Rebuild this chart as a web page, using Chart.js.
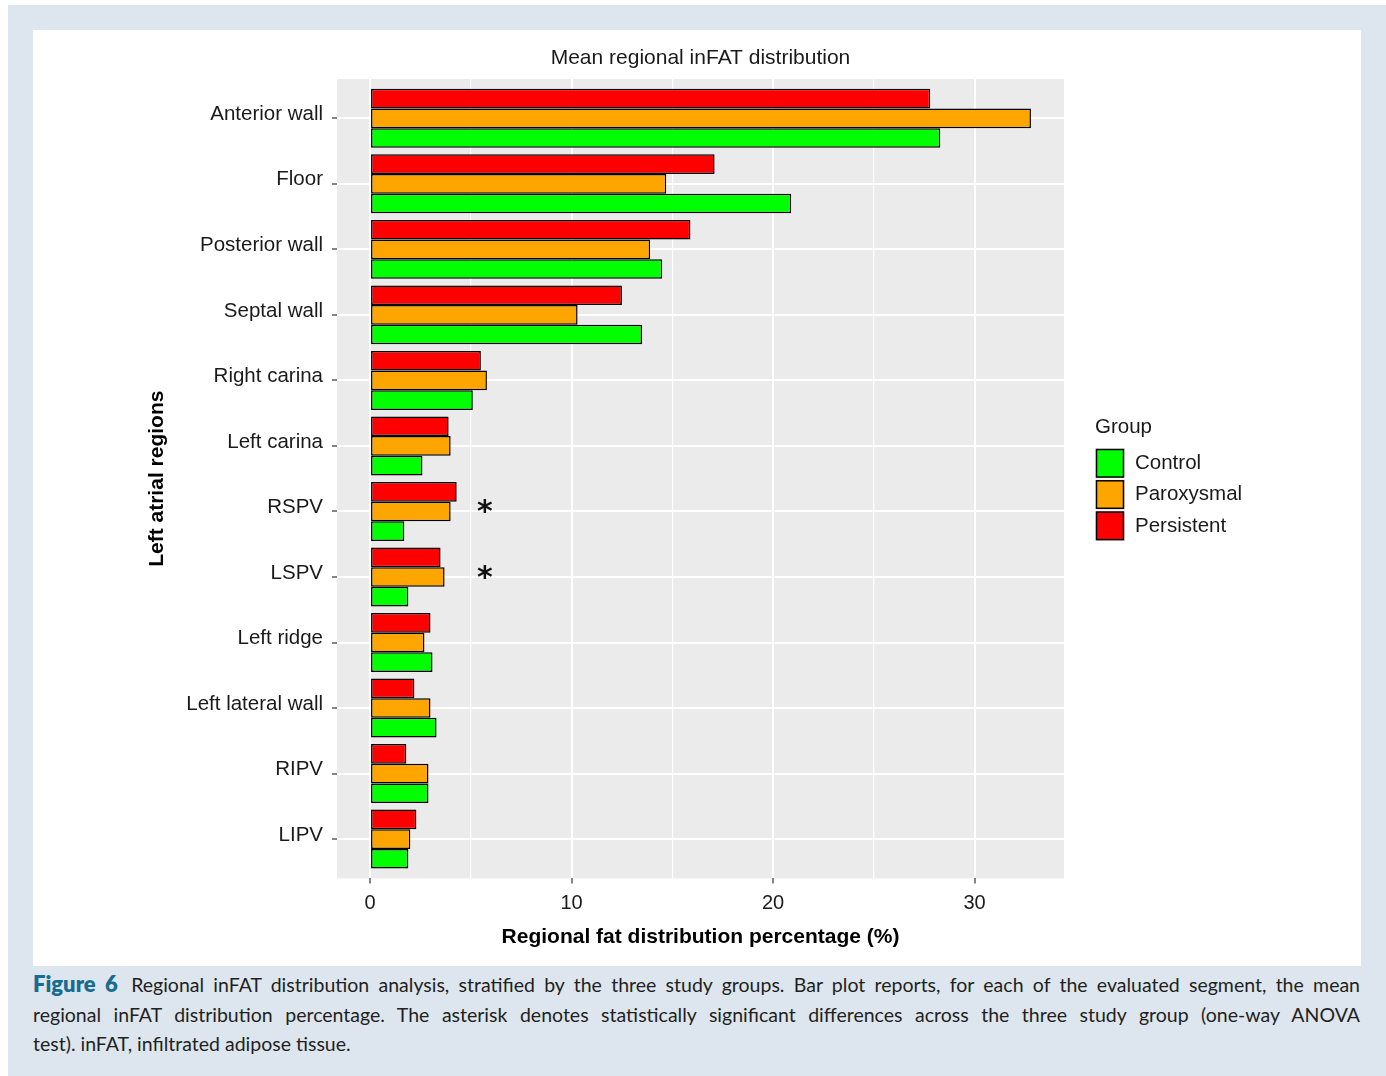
<!DOCTYPE html>
<html>
<head>
<meta charset="utf-8">
<script src="https://cdn.jsdelivr.net/npm/chart.js@4.4.1/dist/chart.umd.min.js"></script>
<style>
  html, body { margin: 0; padding: 0; background: #ffffff; }
  body { width: 1386px; height: 1076px; position: relative; overflow: hidden; }
  #frame { position: absolute; left: 8px; top: 5px; width: 1378px; height: 1071px; background: #dde6ef; }
  #panel { position: absolute; left: 33px; top: 30px; width: 1328px; height: 936px; background: #ffffff; }
  #panel canvas { display: block; }
  #caption {
    position: absolute; left: 33px; top: 969px; width: 1327px;
    font-family: "Lato", "Open Sans", sans-serif; font-size: 19.5px; line-height: 29.5px; color: #231f20;
  }
  #caption .ln { display: block; white-space: nowrap; text-align: justify; text-align-last: justify; }
  #caption .ln.last { text-align-last: left; }
  #caption b { color: #176d8f; font-size: 22px; font-weight: 800; margin-right: 4px; }
</style>
</head>
<body>
<div id="frame"></div>
<div id="panel"><canvas id="chart" width="1328" height="936"></canvas></div>
<div id="caption">
  <span class="ln"><b>Figure 6</b> Regional inFAT distribution analysis, stratified by the three study groups. Bar plot reports, for each of the evaluated segment, the mean</span>
  <span class="ln">regional inFAT distribution percentage. The asterisk denotes statistically significant differences across the three study group (one-way ANOVA</span>
  <span class="ln last">test). inFAT, infiltrated adipose tissue.</span>
</div>
<script>
// Left atrial regions, top to bottom
const REGIONS = ["Anterior wall", "Floor", "Posterior wall", "Septal wall", "Right carina", "Left carina",
                 "RSPV", "LSPV", "Left ridge", "Left lateral wall", "RIPV", "LIPV"];

// Mean regional inFAT distribution percentage per group
const PERSISTENT = [27.8, 17.1, 15.9, 12.5, 5.5, 3.9, 4.3, 3.5, 3.0, 2.2, 1.8, 2.3];
const PAROXYSMAL = [32.8, 14.7, 13.9, 10.3, 5.8, 4.0, 4.0, 3.7, 2.7, 3.0, 2.9, 2.0];
const CONTROL    = [28.3, 20.9, 14.5, 13.5, 5.1, 2.6, 1.7, 1.9, 3.1, 3.3, 2.9, 1.9];

// Regions with a significant one-way ANOVA result
const SIGNIFICANT = ["RSPV", "LSPV"];
const STAR_VALUE = 5.7;

const X_TICKS = [0, 5, 10, 15, 20, 25, 30];
const X_LABELED = [0, 10, 20, 30];

const GROUPS = [
  { name: "Control",    color: "#00ff00" },
  { name: "Paroxysmal", color: "#ffa500" },
  { name: "Persistent", color: "#ff0000" }
];

const N = REGIONS.length;
const maxVal = Math.max(...PERSISTENT, ...PAROXYSMAL, ...CONTROL);
const pos = i => N - i; // first region sits at the top of the axis

function series(values) {
  return values.map((v, i) => ({ x: v, y: pos(i) }));
}

const FONT = "'Liberation Sans', Arial, sans-serif";

// panel background in ggplot style
const panelBg = {
  id: "panelBg",
  beforeDraw(chart) {
    const { ctx, chartArea: a } = chart;
    ctx.save();
    ctx.fillStyle = "#ebebeb";
    ctx.fillRect(a.left, a.top, a.right - a.left, a.bottom - a.top);
    ctx.restore();
  }
};

// significance markers beside the flagged regions
const stars = {
  id: "stars",
  afterDatasetsDraw(chart) {
    const { ctx, scales } = chart;
    ctx.save();
    ctx.fillStyle = "#111";
    ctx.font = "bold 30px 'DejaVu Sans', sans-serif";
    ctx.textAlign = "center";
    ctx.textBaseline = "middle";
    SIGNIFICANT.forEach(r => {
      const i = REGIONS.indexOf(r);
      ctx.fillText("*", scales.x.getPixelForValue(STAR_VALUE), scales.y.getPixelForValue(pos(i)) + 2);
    });
    ctx.restore();
  }
};

// "Group" legend to the right of the panel
const groupLegend = {
  id: "groupLegend",
  afterDraw(chart) {
    const { ctx, chartArea: a } = chart;
    const x0 = a.right + 31;
    const top = a.top + 348;
    ctx.save();
    ctx.fillStyle = "#1a1a1a";
    ctx.font = "20.5px " + FONT;
    ctx.textAlign = "left";
    ctx.textBaseline = "middle";
    ctx.fillText("Group", x0, top);
    GROUPS.forEach((g, k) => {
      const y = top + 21 + k * 31.3;
      ctx.fillStyle = "#f2f2f2";
      ctx.fillRect(x0, y, 30, 30.5);
      ctx.fillStyle = g.color;
      ctx.fillRect(x0 + 1, y + 1, 28, 28.5);
      ctx.strokeStyle = "#000";
      ctx.lineWidth = 1.5;
      ctx.strokeRect(x0 + 1.5, y + 1.5, 27, 27.5);
      ctx.fillStyle = "#1a1a1a";
      ctx.fillText(g.name, x0 + 40, y + 15.5);
    });
    ctx.restore();
  }
};

const barStyle = { borderColor: "#000", borderWidth: 1.5, borderSkipped: false,
                   categoryPercentage: 0.9, barPercentage: 1.0 };

new Chart(document.getElementById("chart"), {
  type: "bar",
  data: {
    datasets: [
      Object.assign({ label: "Persistent", data: series(PERSISTENT), backgroundColor: "#ff0000" }, barStyle),
      Object.assign({ label: "Paroxysmal", data: series(PAROXYSMAL), backgroundColor: "#ffa500" }, barStyle),
      Object.assign({ label: "Control",    data: series(CONTROL),    backgroundColor: "#00ff00" }, barStyle)
    ]
  },
  plugins: [panelBg, stars, groupLegend],
  options: {
    indexAxis: "y",
    responsive: false,
    animation: false,
    layout: { padding: { left: 108, right: 297, top: 0, bottom: 12 } },
    plugins: {
      legend: { display: false },
      tooltip: { enabled: false },
      title: {
        display: true,
        text: "Mean regional inFAT distribution",
        fullSize: false,
        color: "#1a1a1a",
        font: { family: FONT, size: 21, weight: "normal" },
        padding: { top: 16, bottom: 7.8 }
      }
    },
    scales: {
      x: {
        type: "linear",
        min: -maxVal * 0.05,
        max: maxVal * 1.05,
        afterBuildTicks: s => { s.ticks = X_TICKS.map(v => ({ value: v })); },
        afterFit: s => { s.height = 75.6; },
        border: { display: false },
        grid: {
          color: "#ffffff",
          lineWidth: c => (X_LABELED.includes(c.tick.value) ? 2 : 1.2),
          tickColor: c => (X_LABELED.includes(c.tick.value) ? "#333333" : "rgba(0,0,0,0)"),
          tickLength: 5,
          tickWidth: 1.2
        },
        ticks: {
          autoSkip: false,
          maxRotation: 0,
          padding: 8,
          color: "#1a1a1a",
          font: { family: FONT, size: 20 },
          callback: v => (X_LABELED.includes(v) ? String(v) : "")
        },
        title: {
          display: true,
          text: "Regional fat distribution percentage (%)",
          color: "#000",
          font: { family: FONT, size: 21, weight: "bold" }
        }
      },
      y: {
        type: "linear",
        min: 0.4,
        max: N + 0.6,
        offset: false,
        afterBuildTicks: s => { s.ticks = REGIONS.map((r, i) => ({ value: pos(i) })); },
        afterFit: s => { s.width = 196; },
        border: { display: false },
        grid: { offset: false, color: "#ffffff", lineWidth: 2, tickColor: "#333333", tickLength: 5, tickWidth: 1.2 },
        ticks: {
          autoSkip: false,
          padding: 9,
          labelOffset: -4,
          color: "#1a1a1a",
          font: { family: FONT, size: 20.5 },
          callback: v => REGIONS[N - v]
        },
        title: {
          display: true,
          text: "Left atrial regions",
          color: "#000",
          font: { family: FONT, size: 21, weight: "bold" }
        }
      }
    }
  }
});
</script>
</body>
</html>
